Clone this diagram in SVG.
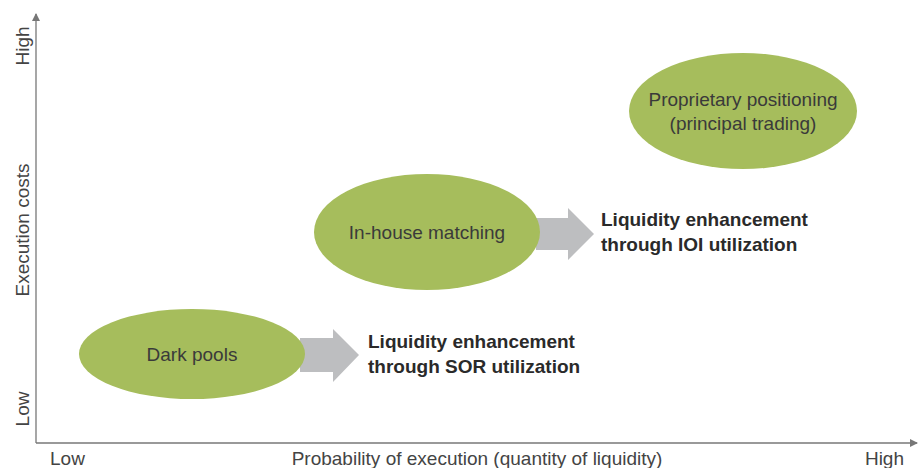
<svg xmlns="http://www.w3.org/2000/svg" width="920" height="468" viewBox="0 0 920 468">
<style>
.node{fill:#a6bd5c;}
.lbl{font-family:"Liberation Sans",Arial,sans-serif;font-size:19px;fill:#3a3a3a;text-anchor:middle;}
.ax{font-family:"Liberation Sans",Arial,sans-serif;font-size:19px;fill:#444;}
.bold{font-family:"Liberation Sans",Arial,sans-serif;font-size:19px;font-weight:bold;fill:#2a2a2a;}
.axis{stroke:#777;stroke-width:1.3;fill:none;}
.garrow{fill:#bdbec0;}
</style>
<defs>
<marker id="ah" markerWidth="8" markerHeight="8" refX="7" refY="4" orient="auto" markerUnits="userSpaceOnUse">
<path d="M0,0 L8,4 L0,8 z" fill="#777"/>
</marker>
</defs>
<g id="axes">
<line class="axis" x1="36" y1="443" x2="36" y2="14" marker-end="url(#ah)"/>
<line class="axis" x1="36" y1="443" x2="917" y2="443" marker-end="url(#ah)"/>
<text class="ax" transform="translate(29,46) rotate(-90)" text-anchor="middle">High</text>
<text class="ax" transform="translate(29,230) rotate(-90)" text-anchor="middle">Execution costs</text>
<text class="ax" transform="translate(29,409) rotate(-90)" text-anchor="middle">Low</text>
<text class="ax" x="50" y="465">Low</text>
<text class="ax" x="477" y="465" text-anchor="middle">Probability of execution (quantity of liquidity)</text>
<text class="ax" x="904" y="465" text-anchor="end">High</text>
</g>
<g id="connectors">
<polygon class="garrow" points="300,338 333,338 333,329 359,355 333,382 333,372 300,372"/>
<polygon class="garrow" points="536,218 568,218 568,208 594,234 568,260 568,250 536,250"/>
</g>
<g id="node-dark-pools">
<ellipse class="node" cx="192" cy="354" rx="113" ry="45"/>
<text class="lbl" x="192" y="361">Dark pools</text>
</g>
<g id="node-in-house">
<ellipse class="node" cx="427" cy="232" rx="113" ry="58"/>
<text class="lbl" x="427" y="239">In-house matching</text>
</g>
<g id="node-proprietary">
<ellipse class="node" cx="743" cy="111" rx="114" ry="58"/>
<text class="lbl" x="743" y="106">Proprietary positioning</text>
<text class="lbl" x="743" y="130">(principal trading)</text>
</g>
<g id="label-sor">
<text class="bold" x="368" y="348">Liquidity enhancement</text>
<text class="bold" x="368" y="373">through SOR utilization</text>
</g>
<g id="label-ioi">
<text class="bold" x="601" y="226">Liquidity enhancement</text>
<text class="bold" x="601" y="251">through IOI utilization</text>
</g>
</svg>
